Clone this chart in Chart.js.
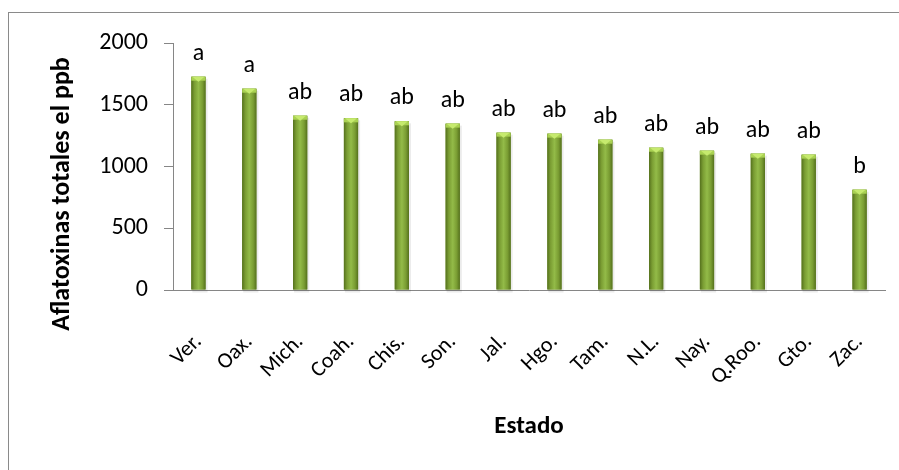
<!DOCTYPE html>
<html>
<head>
<meta charset="utf-8">
<script src="https://cdn.jsdelivr.net/npm/chart.js@4"></script>
<style>
  html, body { margin: 0; padding: 0; background: #ffffff; }
  #wrap { position: relative; width: 899px; height: 470px; }
</style>
</head>
<body>
<div id="wrap"><canvas id="c" width="899" height="470"></canvas></div>
<script>
const categories = ['Ver.', 'Oax.', 'Mich.', 'Coah.', 'Chis.', 'Son.', 'Jal.', 'Hgo.', 'Tam.', 'N.L.', 'Nay.', 'Q.Roo.', 'Gto.', 'Zac.'];
const values = [1727, 1630, 1411, 1390, 1366, 1347, 1274, 1266, 1217, 1152, 1128, 1104, 1096, 812];
const letters = ['a', 'a', 'ab', 'ab', 'ab', 'ab', 'ab', 'ab', 'ab', 'ab', 'ab', 'ab', 'ab', 'b'];
const yTicks = [0, 500, 1000, 1500, 2000];
const yTitle = 'Aflatoxinas totales el ppb';
const xTitle = 'Estado';

const FONT = 'Carlito, "Open Sans", sans-serif';

const decor = {
  id: 'decor',
  beforeDraw(chart) {
    const ctx = chart.ctx;
    ctx.save();
    ctx.fillStyle = '#ffffff';
    ctx.fillRect(0, 0, chart.width, chart.height);
    ctx.strokeStyle = '#8a8a8a';
    ctx.lineWidth = 1;
    ctx.strokeRect(8.5, 12.5, 1000, 1000);
    ctx.restore();
  },
  afterDatasetsDraw(chart) {
    const ctx = chart.ctx;
    const meta = chart.getDatasetMeta(0);
    ctx.save();
    meta.data.forEach((bar, i) => {
      const w = bar.width, l = bar.x - w / 2, r = bar.x + w / 2;
      const top = bar.y, base = bar.base;
      // soft shadow
      ctx.fillStyle = 'rgba(0,0,0,0.08)';
      ctx.fillRect(l + 1, top + 2, w + 1, base - top + 1);
      const g = ctx.createLinearGradient(l, 0, r, 0);
      g.addColorStop(0, '#55711d');
      g.addColorStop(0.22, '#7a9d33');
      g.addColorStop(0.5, '#93bb48');
      g.addColorStop(0.78, '#7a9d33');
      g.addColorStop(1, '#55711d');
      ctx.fillStyle = g;
      ctx.fillRect(l, top, w, base - top);
      // top bevel
      const bh = 4;
      ctx.fillStyle = '#a9d152';
      ctx.fillRect(l, top, w, bh);
      ctx.fillStyle = '#c6ea6e';
      ctx.beginPath();
      ctx.moveTo(l + 1, top);
      ctx.lineTo(r - 1, top);
      ctx.lineTo(bar.x, top + bh + 1);
      ctx.closePath();
      ctx.fill();
      // letter label
      ctx.fillStyle = '#000000';
      ctx.font = '24px ' + FONT;
      ctx.textAlign = 'center';
      ctx.textBaseline = 'alphabetic';
      ctx.fillText(letters[i], bar.x, top - 17);
    });
    ctx.restore();
  },
  afterDraw(chart) {
    const ctx = chart.ctx;
    ctx.save();
    ctx.fillStyle = '#000000';
    ctx.font = 'bold 26px ' + FONT;
    ctx.textAlign = 'center';
    ctx.textBaseline = 'middle';
    ctx.translate(62, 194);
    ctx.rotate(-Math.PI / 2);
    ctx.fillText(yTitle, 0, 0);
    ctx.restore();
  }
};

new Chart(document.getElementById('c'), {
  type: 'bar',
  data: {
    labels: categories,
    datasets: [{
      data: values,
      backgroundColor: '#7a9d33',
      borderWidth: 0,
      categoryPercentage: 1,
      barPercentage: 0.28
    }]
  },
  options: {
    responsive: false,
    animation: false,
    events: [],
    layout: { padding: { left: 0, right: 14, top: 43, bottom: 0 } },
    plugins: { legend: { display: false }, tooltip: { enabled: false } },
    scales: {
      x: {
        offset: true,
        grid: { display: false, drawTicks: false },
        border: { display: true, color: '#868686', width: 1 },
        ticks: {
          color: '#000000',
          font: { family: FONT, size: 22 },
          minRotation: 45,
          maxRotation: 45,
          autoSkip: false,
          padding: 39
        },
        title: {
          display: true,
          text: xTitle,
          color: '#000000',
          font: { family: FONT, size: 25, weight: 'bold' },
          padding: { top: 0, bottom: 28 }
        },
        afterFit(scale) {
          scale.height = 180;
          scale.paddingLeft = 0;
          scale.paddingRight = 0;
        }
      },
      y: {
        min: 0,
        max: 2000,
        afterBuildTicks(scale) { scale.ticks = yTicks.map(v => ({ value: v })); },
        grid: { display: true, drawOnChartArea: false, drawTicks: true, tickLength: 9, color: '#868686' },
        border: { display: true, color: '#868686', width: 1 },
        ticks: {
          color: '#000000',
          font: { family: FONT, size: 24 },
          padding: 16,
          callback: (v) => String(v)
        },
        afterFit(scale) {
          scale.width = 173;
          scale.paddingTop = 0;
          scale.paddingBottom = 0;
        }
      }
    }
  },
  plugins: [decor]
});
</script>
</body>
</html>
